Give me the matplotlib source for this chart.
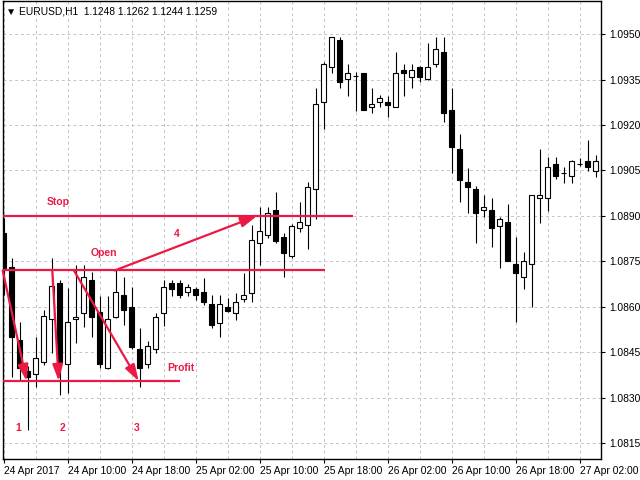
import matplotlib
matplotlib.use('Agg')
import matplotlib.pyplot as plt
import numpy as np

plt.rcParams['font.family'] = ['Liberation Sans', 'DejaVu Sans']

# EURUSD H1, bars from 24 Apr 2017 02:00
opens = [1.08844, 1.08731, 1.08491, 1.08388, 1.08379, 1.08418, 1.08560, 1.08679, 1.08412, 1.08560,
         1.08580, 1.08689, 1.08583, 1.08398, 1.08567, 1.08639, 1.08600, 1.08461, 1.08412, 1.08461,
         1.08580, 1.08679, 1.08679, 1.08649, 1.08659, 1.08649, 1.08609, 1.08547, 1.08600, 1.08580,
         1.08626, 1.08646, 1.08811, 1.08837, 1.08919, 1.08830, 1.08768, 1.08860, 1.08870, 1.08989,
         1.09276, 1.09391, 1.09480, 1.09351, 1.09361, 1.09371, 1.09259, 1.09276, 1.09276, 1.09259,
         1.09381, 1.09358, 1.09391, 1.09351, 1.09401, 1.09441, 1.09249, 1.09121, 1.09012, 1.08989,
         1.08919, 1.08919, 1.08867, 1.08880, 1.08741, 1.08698, 1.08741, 1.08959, 1.08959, 1.09071,
         1.09041, 1.09032, 1.09071, 1.09081, 1.09048]
highs = [1.08893, 1.08761, 1.08550, 1.08405, 1.08501, 1.08590, 1.08761, 1.08689, 1.08662, 1.08738,
         1.08738, 1.08715, 1.08636, 1.08636, 1.08722, 1.08698, 1.08665, 1.08530, 1.08487, 1.08580,
         1.08689, 1.08689, 1.08689, 1.08675, 1.08665, 1.08695, 1.08639, 1.08639, 1.08629, 1.08646,
         1.08712, 1.08870, 1.08929, 1.08929, 1.08979, 1.08844, 1.08873, 1.08946, 1.09012, 1.09322,
         1.09408, 1.09490, 1.09490, 1.09401, 1.09375, 1.09372, 1.09322, 1.09299, 1.09295, 1.09441,
         1.09401, 1.09401, 1.09394, 1.09470, 1.09490, 1.09490, 1.09322, 1.09170, 1.09058, 1.08999,
         1.08969, 1.08959, 1.08896, 1.08939, 1.08830, 1.08781, 1.08969, 1.09121, 1.09094, 1.09094,
         1.09061, 1.09084, 1.09091, 1.09150, 1.09101]
lows = [1.08639, 1.08369, 1.08359, 1.08194, 1.08336, 1.08408, 1.08448, 1.08309, 1.08316, 1.08481,
        1.08534, 1.08501, 1.08398, 1.08395, 1.08563, 1.08540, 1.08461, 1.08336, 1.08398, 1.08448,
        1.08537, 1.08636, 1.08629, 1.08636, 1.08623, 1.08606, 1.08530, 1.08501, 1.08583, 1.08557,
        1.08616, 1.08616, 1.08738, 1.08827, 1.08811, 1.08698, 1.08761, 1.08847, 1.08791, 1.08890,
        1.09187, 1.09371, 1.09322, 1.09295, 1.09246, 1.09249, 1.09239, 1.09259, 1.09226, 1.09258,
        1.09295, 1.09322, 1.09342, 1.09350, 1.09391, 1.09210, 1.09041, 1.08946, 1.08910, 1.08811,
        1.08896, 1.08797, 1.08728, 1.08751, 1.08550, 1.08659, 1.08600, 1.08877, 1.08916, 1.09022,
        1.09008, 1.09008, 1.09065, 1.09048, 1.09028]
closes = [1.08728, 1.08501, 1.08398, 1.08369, 1.08431, 1.08570, 1.08669, 1.08418, 1.08550, 1.08567,
          1.08698, 1.08567, 1.08412, 1.08560, 1.08649, 1.08590, 1.08468, 1.08398, 1.08471, 1.08567,
          1.08665, 1.08659, 1.08639, 1.08665, 1.08639, 1.08616, 1.08540, 1.08609, 1.08586, 1.08616,
          1.08639, 1.08820, 1.08850, 1.08910, 1.08817, 1.08778, 1.08867, 1.08880, 1.08995, 1.09269,
          1.09401, 1.09490, 1.09342, 1.09371, 1.09360, 1.09249, 1.09269, 1.09289, 1.09266, 1.09371,
          1.09371, 1.09381, 1.09358, 1.09391, 1.09450, 1.09239, 1.09127, 1.09018, 1.08995, 1.08910,
          1.08929, 1.08860, 1.08890, 1.08751, 1.08712, 1.08751, 1.08969, 1.08969, 1.09061, 1.09032,
          1.09040, 1.09081, 1.09070, 1.09061, 1.09081]

time_labels = ['24 Apr 2017', '24 Apr 10:00', '24 Apr 18:00', '25 Apr 02:00', '25 Apr 10:00',
               '25 Apr 18:00', '26 Apr 02:00', '26 Apr 10:00', '26 Apr 18:00', '27 Apr 02:00']
price_ticks = [1.0815, 1.0830, 1.0845, 1.0860, 1.0875, 1.0890, 1.0905, 1.0920, 1.0935, 1.0950]

# trade levels and arrows (bar index, level)
stop_price = 1.0890
open_price = 1.0872
profit_price = 1.08355
stop_end, open_end, profit_end = 43.7, 40.2, 22.0
arrows = [(-0.1, open_price, 2.9, profit_price),
          (6.1, open_price, 6.9, profit_price),
          (8.8, open_price, 16.9, profit_price),
          (13.9, open_price, 31.7, stop_price)]

RED = '#ea1a45'

o = np.array(opens)
h = np.array(highs)
l = np.array(lows)
c = np.array(closes)
idx = np.arange(len(o))

fig = plt.figure(figsize=(6.4, 4.8), dpi=100)
ax = fig.add_axes([2.7 / 640, 1 - 459 / 480, 598 / 640, 458 / 480])

ax.vlines(idx, l, h, color='black', linewidth=0.8, zorder=2)
bull = c >= o
body_h = np.maximum(np.abs(c - o), 0.000008)
ax.bar(idx, body_h, bottom=np.minimum(o, c), width=0.62,
       color=np.where(bull, 'white', 'black'), edgecolor='black', linewidth=0.8, zorder=3)

ax.set_xlim(-0.1, 74.65)
ax.set_ylim(1.08098, 1.09609)

# grid
ax.set_xticks(np.arange(0, 75, 8))
ax.set_xticklabels(time_labels, ha='left')
ax.set_xticks(np.arange(0, 75, 4), minor=True)
ax.set_yticks(price_ticks)
ax.set_yticklabels(['%.4f' % p for p in price_ticks])
ax.yaxis.tick_right()
ax.grid(True, which='both', color='#c4c4c4', linestyle=(0, (3, 3)), linewidth=0.7, zorder=0)
ax.set_axisbelow(True)
ax.tick_params(axis='x', which='major', direction='out', length=3, width=0.8, pad=2, labelsize=7.4)
ax.tick_params(axis='x', which='minor', length=0)
ax.tick_params(axis='y', direction='out', length=3, width=0.8, pad=3, labelsize=7.4)
for s in ax.spines.values():
    s.set_linewidth(1.0)
    s.set_color('black')

# trade levels
ax.hlines(stop_price, -0.1, stop_end, color=RED, linewidth=1.6, zorder=4)
ax.hlines(open_price, -0.1, open_end, color=RED, linewidth=1.6, zorder=4)
ax.hlines(profit_price, -0.1, profit_end, color=RED, linewidth=1.6, zorder=4)

for x0, y0, x1, y1 in arrows:
    ax.annotate('', xy=(x1, y1), xytext=(x0, y0),
                arrowprops=dict(arrowstyle='-|>,head_length=0.7,head_width=0.22', color=RED, lw=1.6,
                                mutation_scale=14, shrinkA=0, shrinkB=0), zorder=5)

txt = dict(color=RED, fontweight='bold', fontsize=7.5, ha='center', va='center', zorder=6)
ax.text(6.9, 1.08946, 'Stop', **txt)
ax.text(12.6, 1.08778, 'Open', **txt)
ax.text(22.2, 1.08398, 'Profit', **txt)
ax.text(1.8, 1.08200, '1', **txt)
ax.text(7.4, 1.08200, '2', **txt)
ax.text(16.7, 1.08200, '3', **txt)
ax.text(21.6, 1.08840, '4', **txt)

fig.text(6 / 640, 1 - 11 / 480, '\u25bc EURUSD,H1  1.1248 1.1262 1.1244 1.1259',
         fontsize=7.4, va='center', ha='left')

fig.savefig('out.png', dpi=100)
